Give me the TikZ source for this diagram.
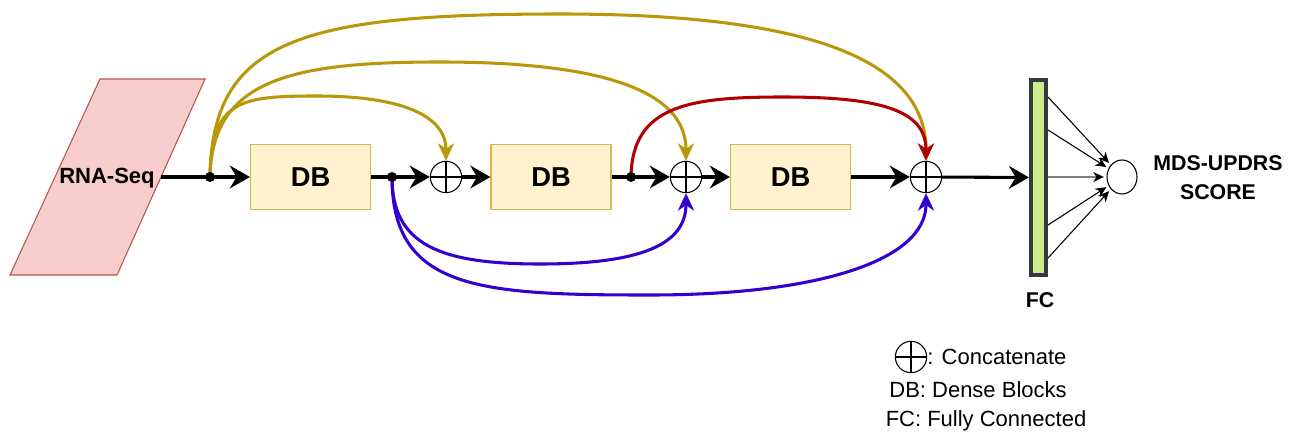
\documentclass[tikz,border=0pt]{standalone}
\usepackage{fontspec}
\setmainfont{Liberation Sans}
\usetikzlibrary{arrows.meta,shapes.geometric,backgrounds}
\definecolor{skipgold}{RGB}{184,152,10}
\definecolor{skipred}{RGB}{178,0,0}
\definecolor{skipblue}{RGB}{51,0,204}
\definecolor{inpink}{HTML}{F8CECC}
\definecolor{inpinkline}{HTML}{B85450}
\definecolor{dbfill}{HTML}{FFF2CC}
\definecolor{dbline}{HTML}{D6B656}
\definecolor{fcfill}{HTML}{CDEB8B}
\definecolor{fcline}{HTML}{36393D}
\begin{document}
\begin{tikzpicture}[x=0.75pt,y=-0.75pt,
  dbbox/.style={draw=dbline,fill=dbfill,line width=0.9pt,minimum width=90pt,minimum height=49pt,
    inner sep=0pt,font=\bfseries\fontsize{20.5}{24}\selectfont},
  catnode/.style={circle,draw,line width=0.8pt,minimum size=23.5pt,inner sep=0pt},
  joint/.style={circle,fill=black,minimum size=7.5pt,inner sep=0pt},
  mainflow/.style={line width=2.3pt,-{Stealth[length=15pt,width=17pt,inset=5pt]}},
  skip/.style={line width=2.3pt,-{Stealth[length=13pt,width=12pt,inset=4pt]}},
  fcarrow/.style={line width=0.8pt,shorten >=2pt,-{Stealth[length=8pt,width=7.5pt,inset=2.5pt,color=black]}},
  lbl/.style={font=\bfseries\fontsize{16}{21.75}\selectfont,inner sep=0pt},
  legend/.style={font=\fontsize{16.5}{20}\selectfont,inner sep=0pt}]
\useasboundingbox (0,0) rectangle (1301,435);

% input block
\draw[draw=inpinkline,fill=inpink,line width=0.8pt] (10,275) -- (100,79) -- (205,79) -- (117,275) -- cycle;
\node[lbl,font=\bfseries\fontsize{16.5}{20}\selectfont] (rna) at (107,178) {RNA-Seq};
\coordinate (rnaout) at (161,177);

% dense blocks and concatenations
\node[dbbox] (db1) at (310.5,177) {DB};
\node[dbbox] (db2) at (551,177) {DB};
\node[dbbox] (db3) at (790.5,177) {DB};
\node[catnode] (c1) at (446,177) {};
\node[catnode] (c2) at (686,177) {};
\node[catnode] (c3) at (926,177) {};
\node[joint] (j1) at (210,177) {};
\node[joint] (j2) at (392,177) {};
\node[joint] (j3) at (631,177) {};

% fully connected layer and output
\node[draw=fcline,fill=fcfill,line width=3pt,minimum width=11.25pt,minimum height=146pt,inner sep=0pt] (fc) at (1038.5,177.5) {};
\node[lbl] (fclabel) at (1040,300) {FC};
\node[ellipse,draw,fill=white,line width=0.8pt,minimum width=22.5pt,minimum height=25.5pt,inner sep=0pt] (out) at (1122,177) {};
\node[lbl,align=center] (score) at (1218,177.5) {MDS-UPDRS\\SCORE};

% legend
\node[catnode] (lc) at (911,357) {};
\node[legend,anchor=west] (lcat) at (lc.east) {: Concatenate};
\node[legend] (ldb) at (978,390) {DB: Dense Blocks};
\node[legend] (lfc) at (986,421) {FC: Fully Connected};

% crosses inside the concatenation circles
\foreach \c in {c1,c2,c3,lc}
  \draw[line width=0.8pt] (\c.north) -- (\c.south) (\c.west) -- (\c.east);

% skip connections
\begin{scope}[on background layer]
\draw[skip,skipgold] (j1.center) .. controls (211,100) and (240,96) .. (317,96)
  .. controls (400,96) and (446,115) .. (c1.north);
\draw[skip,skipgold] (j1.center) .. controls (212,80) and (290,62) .. (440,62)
  .. controls (600,62) and (686,90) .. (c2.north);
\draw[skip,skipgold] (j1.center) .. controls (212,40) and (300,14) .. (560,14)
  .. controls (750,14) and (926,40) .. (c3.north);
\draw[skip,skipred] (j3.center) .. controls (632,105) and (690,97) .. (783,97)
  .. controls (880,97) and (926,110) .. (c3.north);
\draw[skip,skipblue] (j2.center) .. controls (392,245) and (440,264) .. (540,264)
  .. controls (640,264) and (686,245) .. (c2.south);
\draw[skip,skipblue] (j2.center) .. controls (392,290) and (480,295) .. (650,295)
  .. controls (820,295) and (926,260) .. (c3.south);
\end{scope}

% main data flow
\draw[mainflow] (rnaout) -- (db1);
\draw[mainflow] (db1) -- (c1);
\draw[mainflow] (c1) -- (db2);
\draw[mainflow] (db2) -- (c2);
\draw[mainflow] (c2) -- (db3);
\draw[mainflow] (db3) -- (c3);
\draw[mainflow] (c3) -- (fc);

% fully connected links to the output neuron
\coordinate (f1) at (1048,97);
\coordinate (f2) at (1048,130);
\coordinate (f3) at (1048,177);
\coordinate (f4) at (1048,225);
\coordinate (f5) at (1048,258);
\draw[fcarrow] (f1) -- (out);
\draw[fcarrow] (f2) -- (out);
\draw[fcarrow,draw=gray] (f3) -- (out);
\draw[fcarrow] (f4) -- (out);
\draw[fcarrow] (f5) -- (out);
\end{tikzpicture}
\end{document}
